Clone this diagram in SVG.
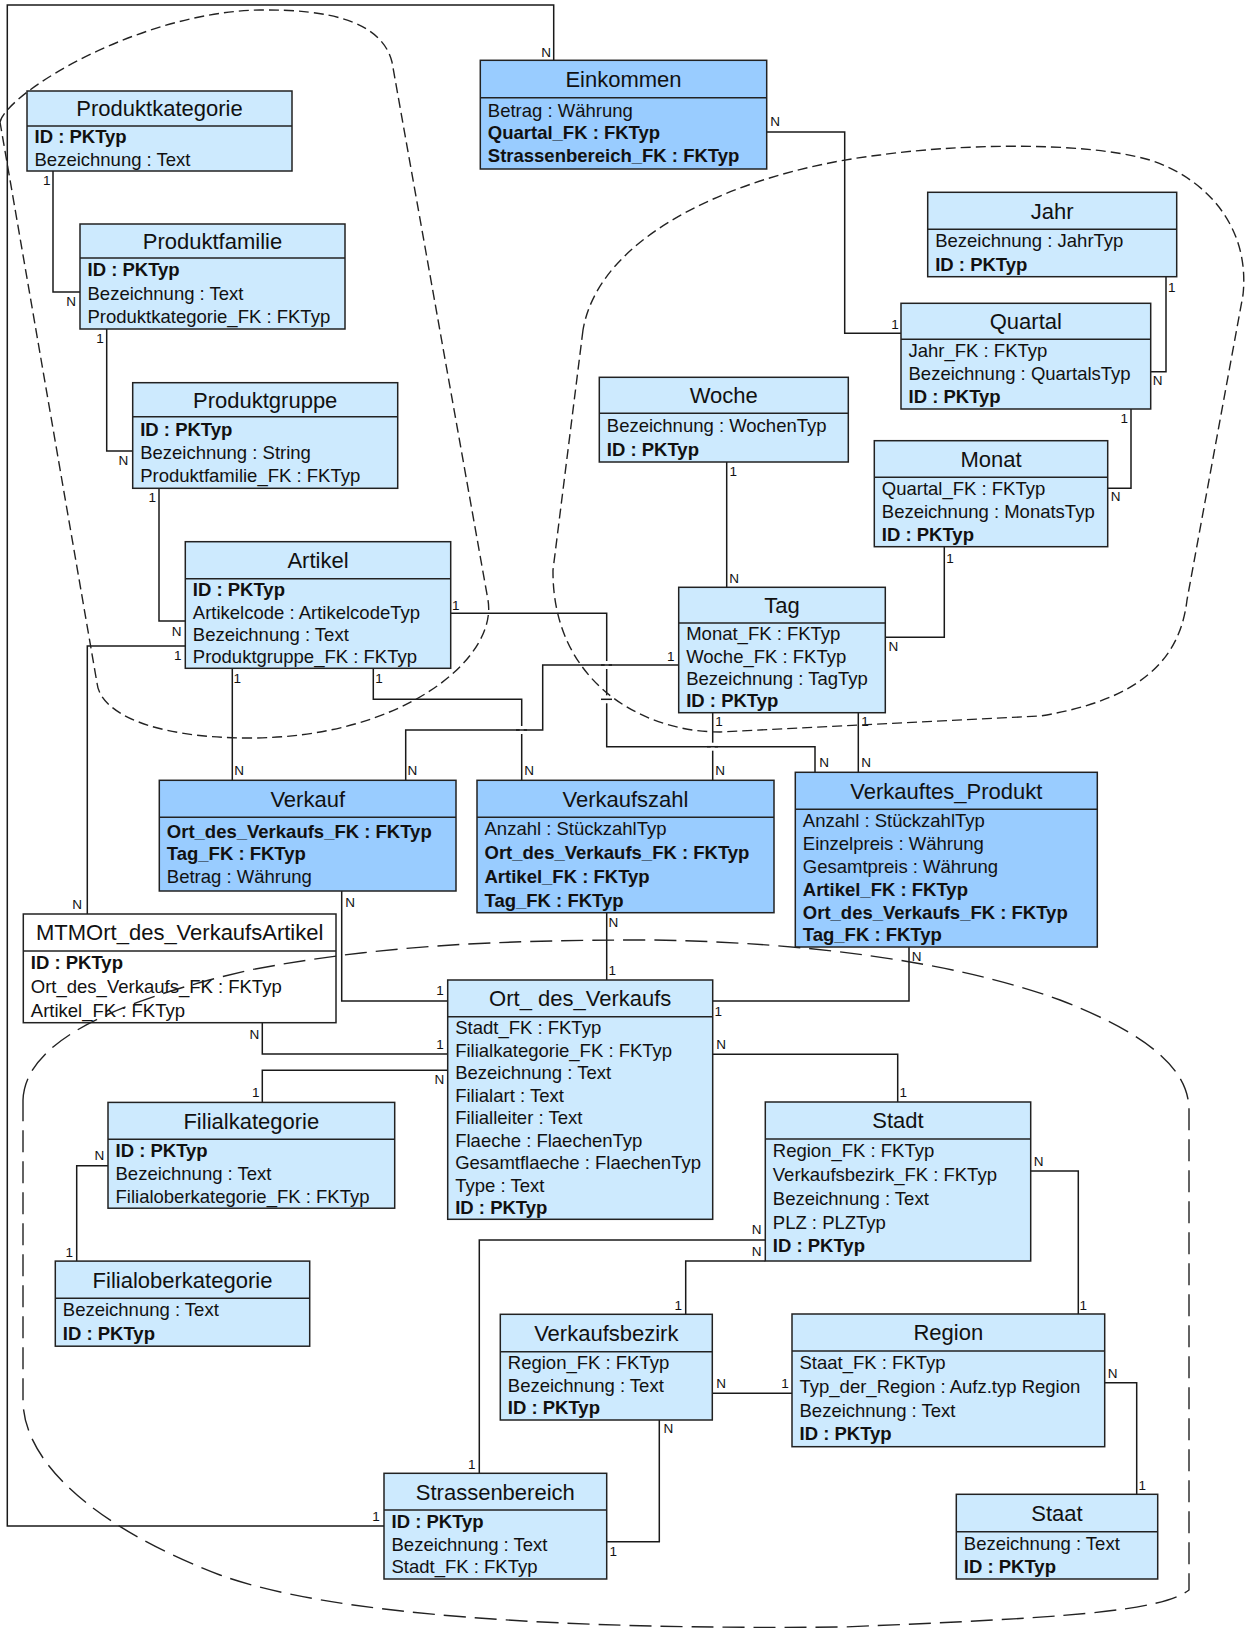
<svg xmlns="http://www.w3.org/2000/svg" width="1250" height="1629" viewBox="0 0 1250 1629">
<style>
  .ent rect { stroke:#222; stroke-width:1.5; }
  .ent line { stroke:#222; stroke-width:1.5; }
  .light rect { fill:#cdeafe; }
  .dark rect { fill:#99ccff; }
  .plain rect { fill:#ffffff; }
  text { font-family:"Liberation Sans", Arial, sans-serif; fill:#111; }
  .t { font-size:22px; text-anchor:middle; }
  .a { font-size:18.5px; }
  .b { font-weight:bold; }
  .rel polyline { fill:none; stroke:#1a1a1a; stroke-width:1.5; }
  .card { font-size:13.5px; text-anchor:middle; }
  .hop-gap { stroke:#fff; stroke-width:4; }
  .hop-line { stroke:#1a1a1a; stroke-width:1.5; }
  .grp { fill:none; stroke:#222; stroke-width:1.4; }
  .grp-s { stroke-dasharray:10 5; }
  .grp-l { stroke-dasharray:22 9; }
</style>

<!-- relationships -->
<g id="connectors" class="rel">
  <polyline points="53,171 53,292 80,292"/>
  <polyline points="106.7,329 106.7,451 132.7,451"/>
  <polyline points="159,488.3 159,621 185.3,621"/>
  <polyline points="185.3,646 87.3,646 87.3,914"/>
  <polyline points="232.3,668.3 232.3,780.3"/>
  <polyline points="450.7,613.3 606.7,613.3 606.7,746.7 815,746.7 815,772.3"/>
  <polyline points="373.3,668.3 373.3,699.3 521.7,699.3 521.7,780.3"/>
  <polyline points="678.7,665 542.7,665 542.7,730 405.7,730 405.7,780.3"/>
  <polyline points="712.7,712.7 712.7,780.3"/>
  <polyline points="858.3,712.7 858.3,772.3"/>
  <polyline points="944.3,546.7 944.3,637.3 885.3,637.3"/>
  <polyline points="726.7,462 726.7,587.3"/>
  <polyline points="1131,409 1131,488.3 1107.7,488.3"/>
  <polyline points="1166,276.7 1166,371.7 1150.7,371.7"/>
  <polyline points="766.7,132 844.7,132 844.7,333.3 901,333.3"/>
  <polyline points="384,1525.9 7.3,1525.9 7.3,5 553.7,5 553.7,60.3"/>
  <polyline points="341.7,891 341.7,1001 447.7,1001"/>
  <polyline points="262.3,1022.7 262.3,1054 447.7,1054"/>
  <polyline points="447.7,1070.3 262.3,1070.3 262.3,1102.4"/>
  <polyline points="606.7,912.7 606.7,980"/>
  <polyline points="712.7,1001 909,1001 909,947"/>
  <polyline points="712.7,1054.3 897.7,1054.3 897.7,1102"/>
  <polyline points="108,1165.8 76.7,1165.8 76.7,1261.1"/>
  <polyline points="765.3,1240 479.3,1240 479.3,1473.3"/>
  <polyline points="765.3,1261 685.7,1261 685.7,1314.3"/>
  <polyline points="1030.7,1171 1078.3,1171 1078.3,1314"/>
  <polyline points="712.3,1393.3 792,1393.3"/>
  <polyline points="659.3,1420 659.3,1541.7 606.7,1541.7"/>
  <polyline points="1104.7,1382.7 1136.7,1382.7 1136.7,1494.3"/>

  <!-- line jumps where connectors cross -->
  <line class="hop-gap" x1="606.7" y1="661" x2="606.7" y2="669"/>
  <line class="hop-line" x1="601" y1="665" x2="612" y2="665"/>
  <line class="hop-gap" x1="606.7" y1="695.3" x2="606.7" y2="703.3"/>
  <line class="hop-line" x1="601" y1="699.3" x2="612" y2="699.3"/>
  <line class="hop-gap" x1="521.7" y1="726" x2="521.7" y2="734"/>
  <line class="hop-line" x1="516" y1="730" x2="527" y2="730"/>
  <line class="hop-gap" x1="712.7" y1="742.7" x2="712.7" y2="750.7"/>
  <line class="hop-line" x1="707" y1="746.7" x2="718" y2="746.7"/>

  <!-- cardinalities -->
  <text class="card" x="46.7" y="184.5">1</text>
  <text class="card" x="71" y="305.5">N</text>
  <text class="card" x="100" y="342.5">1</text>
  <text class="card" x="123.3" y="464.5">N</text>
  <text class="card" x="152.3" y="502">1</text>
  <text class="card" x="176.7" y="635.5">N</text>
  <text class="card" x="177.7" y="659.5">1</text>
  <text class="card" x="77" y="908.8">N</text>
  <text class="card" x="237.3" y="682.8">1</text>
  <text class="card" x="239" y="774.5">N</text>
  <text class="card" x="379" y="682.8">1</text>
  <text class="card" x="529" y="774.5">N</text>
  <text class="card" x="455.7" y="610.2">1</text>
  <text class="card" x="824" y="766.5">N</text>
  <text class="card" x="670.7" y="660.5">1</text>
  <text class="card" x="412.3" y="774.5">N</text>
  <text class="card" x="719" y="725.5">1</text>
  <text class="card" x="720" y="774.5">N</text>
  <text class="card" x="865" y="725.5">1</text>
  <text class="card" x="866" y="766.5">N</text>
  <text class="card" x="950" y="562.8">1</text>
  <text class="card" x="893.3" y="651.2">N</text>
  <text class="card" x="733.3" y="475.5">1</text>
  <text class="card" x="734" y="582.8">N</text>
  <text class="card" x="1124.3" y="422.8">1</text>
  <text class="card" x="1115.7" y="501.2">N</text>
  <text class="card" x="1171.7" y="291.8">1</text>
  <text class="card" x="1157.7" y="384.5">N</text>
  <text class="card" x="775" y="126.2">N</text>
  <text class="card" x="895" y="328.5">1</text>
  <text class="card" x="376" y="1520.5">1</text>
  <text class="card" x="546" y="57.2">N</text>
  <text class="card" x="350" y="906.8">N</text>
  <text class="card" x="440" y="995.2">1</text>
  <text class="card" x="254.3" y="1038.5">N</text>
  <text class="card" x="440" y="1048.8">1</text>
  <text class="card" x="439.3" y="1083.5">N</text>
  <text class="card" x="255.7" y="1097.2">1</text>
  <text class="card" x="613.3" y="927.2">N</text>
  <text class="card" x="612.3" y="975.2">1</text>
  <text class="card" x="718.3" y="1016.2">1</text>
  <text class="card" x="916.7" y="960.5">N</text>
  <text class="card" x="721" y="1048.8">N</text>
  <text class="card" x="903.3" y="1097.2">1</text>
  <text class="card" x="99.3" y="1159.8">N</text>
  <text class="card" x="69.3" y="1256.8">1</text>
  <text class="card" x="756.7" y="1233.8">N</text>
  <text class="card" x="471.7" y="1468.8">1</text>
  <text class="card" x="756.7" y="1256.2">N</text>
  <text class="card" x="678.3" y="1309.5">1</text>
  <text class="card" x="1038.7" y="1166.2">N</text>
  <text class="card" x="1083.3" y="1309.5">1</text>
  <text class="card" x="721" y="1387.8">N</text>
  <text class="card" x="785" y="1387.8">1</text>
  <text class="card" x="668.3" y="1433.2">N</text>
  <text class="card" x="613.3" y="1556.2">1</text>
  <text class="card" x="1112.7" y="1377.8">N</text>
  <text class="card" x="1142.3" y="1489.5">1</text>
</g>

<!-- product hierarchy -->
<g id="produktkategorie" class="ent light">
  <rect x="27" y="91" width="265" height="80"/>
  <line x1="27" y1="126" x2="292" y2="126"/>
  <text class="t" x="159.5" y="116.3">Produktkategorie</text>
  <text class="a b" x="34.5" y="143.2">ID : PKTyp</text>
  <text class="a" x="34.5" y="165.7">Bezeichnung : Text</text>
</g>
<g id="produktfamilie" class="ent light">
  <rect x="80" y="224" width="265" height="105"/>
  <line x1="80" y1="258" x2="345" y2="258"/>
  <text class="t" x="212.5" y="248.8">Produktfamilie</text>
  <text class="a b" x="87.5" y="275.8">ID : PKTyp</text>
  <text class="a" x="87.5" y="299.5">Bezeichnung : Text</text>
  <text class="a" x="87.5" y="323.2">Produktkategorie_FK : FKTyp</text>
</g>
<g id="produktgruppe" class="ent light">
  <rect x="132.7" y="382.7" width="265" height="105.6"/>
  <line x1="132.7" y1="416.7" x2="397.7" y2="416.7"/>
  <text class="t" x="265.2" y="407.5">Produktgruppe</text>
  <text class="a b" x="140.2" y="435.6">ID : PKTyp</text>
  <text class="a" x="140.2" y="459">Bezeichnung : String</text>
  <text class="a" x="140.2" y="482">Produktfamilie_FK : FKTyp</text>
</g>
<g id="artikel" class="ent light">
  <rect x="185.3" y="541.7" width="265.4" height="126.6"/>
  <line x1="185.3" y1="578.7" x2="450.7" y2="578.7"/>
  <text class="t" x="318" y="568">Artikel</text>
  <text class="a b" x="192.8" y="596.3">ID : PKTyp</text>
  <text class="a" x="192.8" y="618.5">Artikelcode : ArtikelcodeTyp</text>
  <text class="a" x="192.8" y="641">Bezeichnung : Text</text>
  <text class="a" x="192.8" y="663.2">Produktgruppe_FK : FKTyp</text>
</g>

<!-- time hierarchy -->
<g id="einkommen" class="ent dark">
  <rect x="480.3" y="60.3" width="286.4" height="108.7"/>
  <line x1="480.3" y1="97.7" x2="766.7" y2="97.7"/>
  <text class="t" x="623.5" y="86.8">Einkommen</text>
  <text class="a" x="487.8" y="116.5">Betrag : Währung</text>
  <text class="a b" x="487.8" y="139.3">Quartal_FK : FKTyp</text>
  <text class="a b" x="487.8" y="162">Strassenbereich_FK : FKTyp</text>
</g>
<g id="jahr" class="ent light">
  <rect x="927.7" y="192.3" width="249" height="84.4"/>
  <line x1="927.7" y1="229.3" x2="1176.7" y2="229.3"/>
  <text class="t" x="1052.2" y="218.6">Jahr</text>
  <text class="a" x="935.2" y="247.2">Bezeichnung : JahrTyp</text>
  <text class="a b" x="935.2" y="270.5">ID : PKTyp</text>
</g>
<g id="quartal" class="ent light">
  <rect x="901" y="303.3" width="249.7" height="105.7"/>
  <line x1="901" y1="339.3" x2="1150.7" y2="339.3"/>
  <text class="t" x="1025.8" y="329.1">Quartal</text>
  <text class="a" x="908.5" y="356.9">Jahr_FK : FKTyp</text>
  <text class="a" x="908.5" y="380.1">Bezeichnung : QuartalsTyp</text>
  <text class="a b" x="908.5" y="403">ID : PKTyp</text>
</g>
<g id="woche" class="ent light">
  <rect x="599.3" y="377.3" width="249" height="84.7"/>
  <line x1="599.3" y1="413.3" x2="848.3" y2="413.3"/>
  <text class="t" x="723.8" y="403.1">Woche</text>
  <text class="a" x="606.8" y="431.5">Bezeichnung : WochenTyp</text>
  <text class="a b" x="606.8" y="455.5">ID : PKTyp</text>
</g>
<g id="monat" class="ent light">
  <rect x="874.3" y="440.7" width="233.4" height="106"/>
  <line x1="874.3" y1="477.3" x2="1107.7" y2="477.3"/>
  <text class="t" x="991" y="466.8">Monat</text>
  <text class="a" x="881.8" y="494.9">Quartal_FK : FKTyp</text>
  <text class="a" x="881.8" y="518">Bezeichnung : MonatsTyp</text>
  <text class="a b" x="881.8" y="541">ID : PKTyp</text>
</g>
<g id="tag" class="ent light">
  <rect x="678.7" y="587.3" width="206.6" height="125.4"/>
  <line x1="678.7" y1="623" x2="885.3" y2="623"/>
  <text class="t" x="782" y="613">Tag</text>
  <text class="a" x="686.2" y="640.2">Monat_FK : FKTyp</text>
  <text class="a" x="686.2" y="662.6">Woche_FK : FKTyp</text>
  <text class="a" x="686.2" y="685.1">Bezeichnung : TagTyp</text>
  <text class="a b" x="686.2" y="707.3">ID : PKTyp</text>
</g>

<!-- facts -->
<g id="verkauf" class="ent dark">
  <rect x="159.3" y="780.3" width="296.7" height="110.7"/>
  <line x1="159.3" y1="817.3" x2="456" y2="817.3"/>
  <text class="t" x="307.7" y="806.6">Verkauf</text>
  <text class="a b" x="166.8" y="837.5">Ort_des_Verkaufs_FK : FKTyp</text>
  <text class="a b" x="166.8" y="860">Tag_FK : FKTyp</text>
  <text class="a" x="166.8" y="883">Betrag : Währung</text>
</g>
<g id="verkaufszahl" class="ent dark">
  <rect x="477" y="780.3" width="297" height="132.4"/>
  <line x1="477" y1="817.3" x2="774" y2="817.3"/>
  <text class="t" x="625.5" y="806.6">Verkaufszahl</text>
  <text class="a" x="484.5" y="835.2">Anzahl : StückzahlTyp</text>
  <text class="a b" x="484.5" y="859.1">Ort_des_Verkaufs_FK : FKTyp</text>
  <text class="a b" x="484.5" y="882.9">Artikel_FK : FKTyp</text>
  <text class="a b" x="484.5" y="906.5">Tag_FK : FKTyp</text>
</g>
<g id="verkauftes_produkt" class="ent dark">
  <rect x="795.3" y="772.3" width="302" height="174.7"/>
  <line x1="795.3" y1="809.3" x2="1097.3" y2="809.3"/>
  <text class="t" x="946.3" y="798.6">Verkauftes_Produkt</text>
  <text class="a" x="802.8" y="826.8">Anzahl : StückzahlTyp</text>
  <text class="a" x="802.8" y="849.7">Einzelpreis : Währung</text>
  <text class="a" x="802.8" y="872.7">Gesamtpreis : Währung</text>
  <text class="a b" x="802.8" y="895.6">Artikel_FK : FKTyp</text>
  <text class="a b" x="802.8" y="918.6">Ort_des_Verkaufs_FK : FKTyp</text>
  <text class="a b" x="802.8" y="941.3">Tag_FK : FKTyp</text>
</g>
<g id="mtm_ort_artikel" class="ent plain">
  <rect x="23.3" y="914" width="312.7" height="108.7"/>
  <line x1="23.3" y1="951" x2="336" y2="951"/>
  <text class="t" x="179.7" y="940.3">MTMOrt_des_VerkaufsArtikel</text>
  <text class="a b" x="30.8" y="969">ID : PKTyp</text>
  <text class="a" x="30.8" y="992.9">Ort_des_Verkaufs_FK : FKTyp</text>
  <text class="a" x="30.8" y="1016.5">Artikel_FK : FKTyp</text>
</g>

<!-- location hierarchy -->
<g id="ort_des_verkaufs" class="ent light">
  <rect x="447.7" y="980" width="265" height="239.3"/>
  <line x1="447.7" y1="1016.7" x2="712.7" y2="1016.7"/>
  <text class="t" x="580.2" y="1006.2">Ort_ des_Verkaufs</text>
  <text class="a" x="455.2" y="1034">Stadt_FK : FKTyp</text>
  <text class="a" x="455.2" y="1056.5">Filialkategorie_FK : FKTyp</text>
  <text class="a" x="455.2" y="1079">Bezeichnung : Text</text>
  <text class="a" x="455.2" y="1101.5">Filialart : Text</text>
  <text class="a" x="455.2" y="1124">Filialleiter : Text</text>
  <text class="a" x="455.2" y="1146.5">Flaeche : FlaechenTyp</text>
  <text class="a" x="455.2" y="1169">Gesamtflaeche : FlaechenTyp</text>
  <text class="a" x="455.2" y="1191.5">Type : Text</text>
  <text class="a b" x="455.2" y="1213.7">ID : PKTyp</text>
</g>
<g id="stadt" class="ent light">
  <rect x="765.3" y="1102" width="265.4" height="159"/>
  <line x1="765.3" y1="1139" x2="1030.7" y2="1139"/>
  <text class="t" x="898" y="1128.3">Stadt</text>
  <text class="a" x="772.8" y="1157.2">Region_FK : FKTyp</text>
  <text class="a" x="772.8" y="1181.2">Verkaufsbezirk_FK : FKTyp</text>
  <text class="a" x="772.8" y="1205">Bezeichnung : Text</text>
  <text class="a" x="772.8" y="1228.5">PLZ : PLZTyp</text>
  <text class="a b" x="772.8" y="1252">ID : PKTyp</text>
</g>
<g id="filialkategorie" class="ent light">
  <rect x="108" y="1102.4" width="286.7" height="105.8"/>
  <line x1="108" y1="1139.2" x2="394.7" y2="1139.2"/>
  <text class="t" x="251.3" y="1128.6">Filialkategorie</text>
  <text class="a b" x="115.5" y="1156.7">ID : PKTyp</text>
  <text class="a" x="115.5" y="1179.7">Bezeichnung : Text</text>
  <text class="a" x="115.5" y="1202.5">Filialoberkategorie_FK : FKTyp</text>
</g>
<g id="filialoberkategorie" class="ent light">
  <rect x="55.3" y="1261.1" width="254.4" height="85.1"/>
  <line x1="55.3" y1="1298.2" x2="309.7" y2="1298.2"/>
  <text class="t" x="182.5" y="1287.5">Filialoberkategorie</text>
  <text class="a" x="62.8" y="1316.2">Bezeichnung : Text</text>
  <text class="a b" x="62.8" y="1340">ID : PKTyp</text>
</g>
<g id="verkaufsbezirk" class="ent light">
  <rect x="500.3" y="1314.3" width="212" height="105.7"/>
  <line x1="500.3" y1="1351.7" x2="712.3" y2="1351.7"/>
  <text class="t" x="606.3" y="1340.8">Verkaufsbezirk</text>
  <text class="a" x="507.8" y="1369.1">Region_FK : FKTyp</text>
  <text class="a" x="507.8" y="1391.8">Bezeichnung : Text</text>
  <text class="a b" x="507.8" y="1414.3">ID : PKTyp</text>
</g>
<g id="region" class="ent light">
  <rect x="792" y="1314" width="312.7" height="132.7"/>
  <line x1="792" y1="1351" x2="1104.7" y2="1351"/>
  <text class="t" x="948.3" y="1340.3">Region</text>
  <text class="a" x="799.5" y="1369">Staat_FK : FKTyp</text>
  <text class="a" x="799.5" y="1392.9">Typ_der_Region : Aufz.typ Region</text>
  <text class="a" x="799.5" y="1416.8">Bezeichnung : Text</text>
  <text class="a b" x="799.5" y="1440.4">ID : PKTyp</text>
</g>
<g id="strassenbereich" class="ent light">
  <rect x="384" y="1473.3" width="222.7" height="105.7"/>
  <line x1="384" y1="1510" x2="606.7" y2="1510"/>
  <text class="t" x="495.3" y="1499.5">Strassenbereich</text>
  <text class="a b" x="391.5" y="1527.5">ID : PKTyp</text>
  <text class="a" x="391.5" y="1550.5">Bezeichnung : Text</text>
  <text class="a" x="391.5" y="1573.3">Stadt_FK : FKTyp</text>
</g>
<g id="staat" class="ent light">
  <rect x="956.3" y="1494.3" width="201.4" height="84.7"/>
  <line x1="956.3" y1="1531.7" x2="1157.7" y2="1531.7"/>
  <text class="t" x="1057" y="1520.8">Staat</text>
  <text class="a" x="963.8" y="1549.5">Bezeichnung : Text</text>
  <text class="a b" x="963.8" y="1573">ID : PKTyp</text>
</g>

<!-- dashed dimension outlines -->
<g id="dimension-outlines">
  <path class="grp grp-s" d="M 0,122 C 8,92 140,12 260,10 C 330,9 382,22 392,62 L 488,600 C 498,660 400,738 250,738 C 150,738 100,712 97,683 Z"/>
  <path class="grp grp-s" d="M 583,330 L 553,570 C 552,680 640,732 720,732 L 1040,716 C 1140,700 1180,660 1187,600 L 1243,295 C 1250,230 1210,180 1150,160 C 1080,140 950,145 880,155 C 750,170 600,230 583,330 Z"/>
  <path class="grp grp-l" d="M 23,1100 C 25,1040 120,1000 250,970 C 380,945 500,940 650,940 C 800,942 950,960 1060,1000 C 1150,1035 1189,1070 1189,1110 L 1189,1590 C 1160,1612 1060,1618 843,1627 C 560,1630 330,1615 220,1575 C 90,1525 23,1460 23,1400 Z"/>
</g>
</svg>
